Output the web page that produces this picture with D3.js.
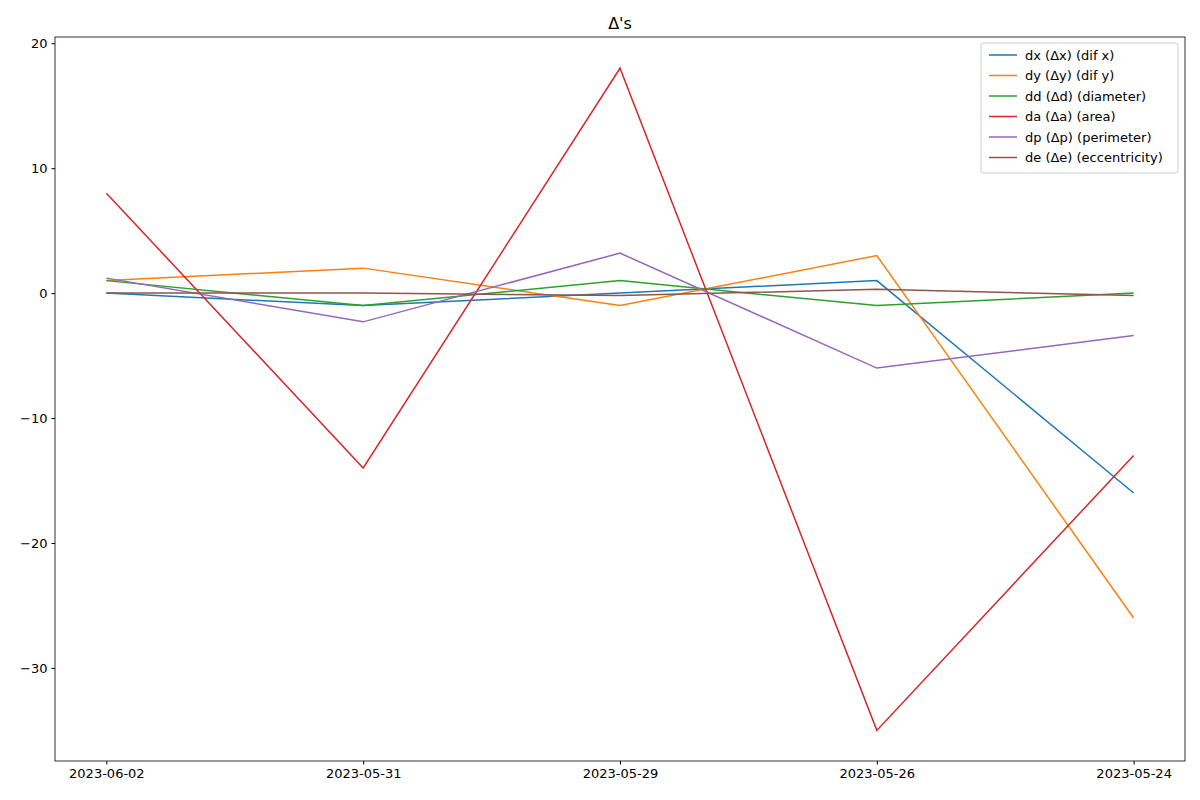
<!DOCTYPE html><html><head><meta charset="utf-8"><script src="https://cdn.jsdelivr.net/npm/d3@7"></script>
<style>body{margin:0;background:#fff}text{font-family:"DejaVu Sans",sans-serif}</style></head><body><svg id="c" width="1200" height="800"></svg><script>
const dates=["2023-06-02","2023-05-31","2023-05-29","2023-05-26","2023-05-24"];
const yTicks=[-30,-20,-10,0,10,20];
const names=["dx (Δx) (dif x)","dy (Δy) (dif y)","dd (Δd) (diameter)","da (Δa) (area)","dp (Δp) (perimeter)","de (Δe) (eccentricity)"];
const colors=["#1f77b4","#ff7f0e","#2ca02c","#d62728","#9467bd","#8c564b"];
const dx=[0,-1,0,1,-16];
const dy=[1,2,-1,3,-26];
const dd=[1,-1,1,-1,0];
const da=[8,-14,18,-35,-13];
const dp=[1.2,-2.3,3.2,-6,-3.4];
const de=[0,0,-0.2,0.3,-0.2];
const series=[dx,dy,dd,da,dp,de];
const L=55,R=1185,T=37,B=761;
const svg=d3.select("#c");
const x=d3.scalePoint().domain(dates).range([L,R]).padding(0.05/ (1/ (dates.length-1)) /2*2*0+0);
const span=(R-L)/(1+2*0.05*1/(1)*1);
// point scale with 5% margin of data span
const inner=(R-L)/1.1, off=inner*0.05;
const xs=d3.scalePoint().domain(dates).range([L+off,R-off]);
const y=d3.scaleLinear().domain([-37.45,20.5]).range([B,T]);
const line=d3.line().x((d,i)=>xs(dates[i])).y(d=>y(d));
series.forEach((s,k)=>svg.append("path").datum(s).attr("d",line).attr("fill","none").attr("stroke",colors[k]).attr("stroke-width",1.5));
svg.append("rect").attr("x",L).attr("y",T).attr("width",R-L).attr("height",B-T).attr("fill","none").attr("stroke","#000").attr("stroke-width",0.8);
svg.append("g").attr("transform",`translate(0,${B})`).call(d3.axisBottom(xs).tickSize(3.5).tickPadding(4)).call(g=>{g.select(".domain").remove();g.selectAll("text").attr("font-size",13).attr("fill","#000").style("font-family","DejaVu Sans");});
svg.append("g").attr("transform",`translate(${L},0)`).call(d3.axisLeft(y).tickValues(yTicks).tickFormat(d=>d<0?"−"+Math.abs(d):d).tickSize(3.5).tickPadding(4)).call(g=>{g.select(".domain").remove();g.selectAll("text").attr("font-size",13).attr("fill","#000").style("font-family","DejaVu Sans");});
svg.append("text").attr("x",(L+R)/2).attr("y",T-8).attr("text-anchor","middle").attr("font-size",16).text("Δ's");
const lg=svg.append("g").attr("transform","translate(981,43)");
lg.append("rect").attr("width",197).attr("height",130).attr("rx",3).attr("fill","#fff").attr("fill-opacity",0.8).attr("stroke","#ccc");
names.forEach((n,i)=>{const yy=12+i*20.5;
lg.append("line").attr("x1",8).attr("x2",36).attr("y1",yy).attr("y2",yy).attr("stroke",colors[i]).attr("stroke-width",1.5);
lg.append("text").attr("x",44).attr("y",yy+4.5).attr("font-size",13).text(n);});
</script></body></html>
